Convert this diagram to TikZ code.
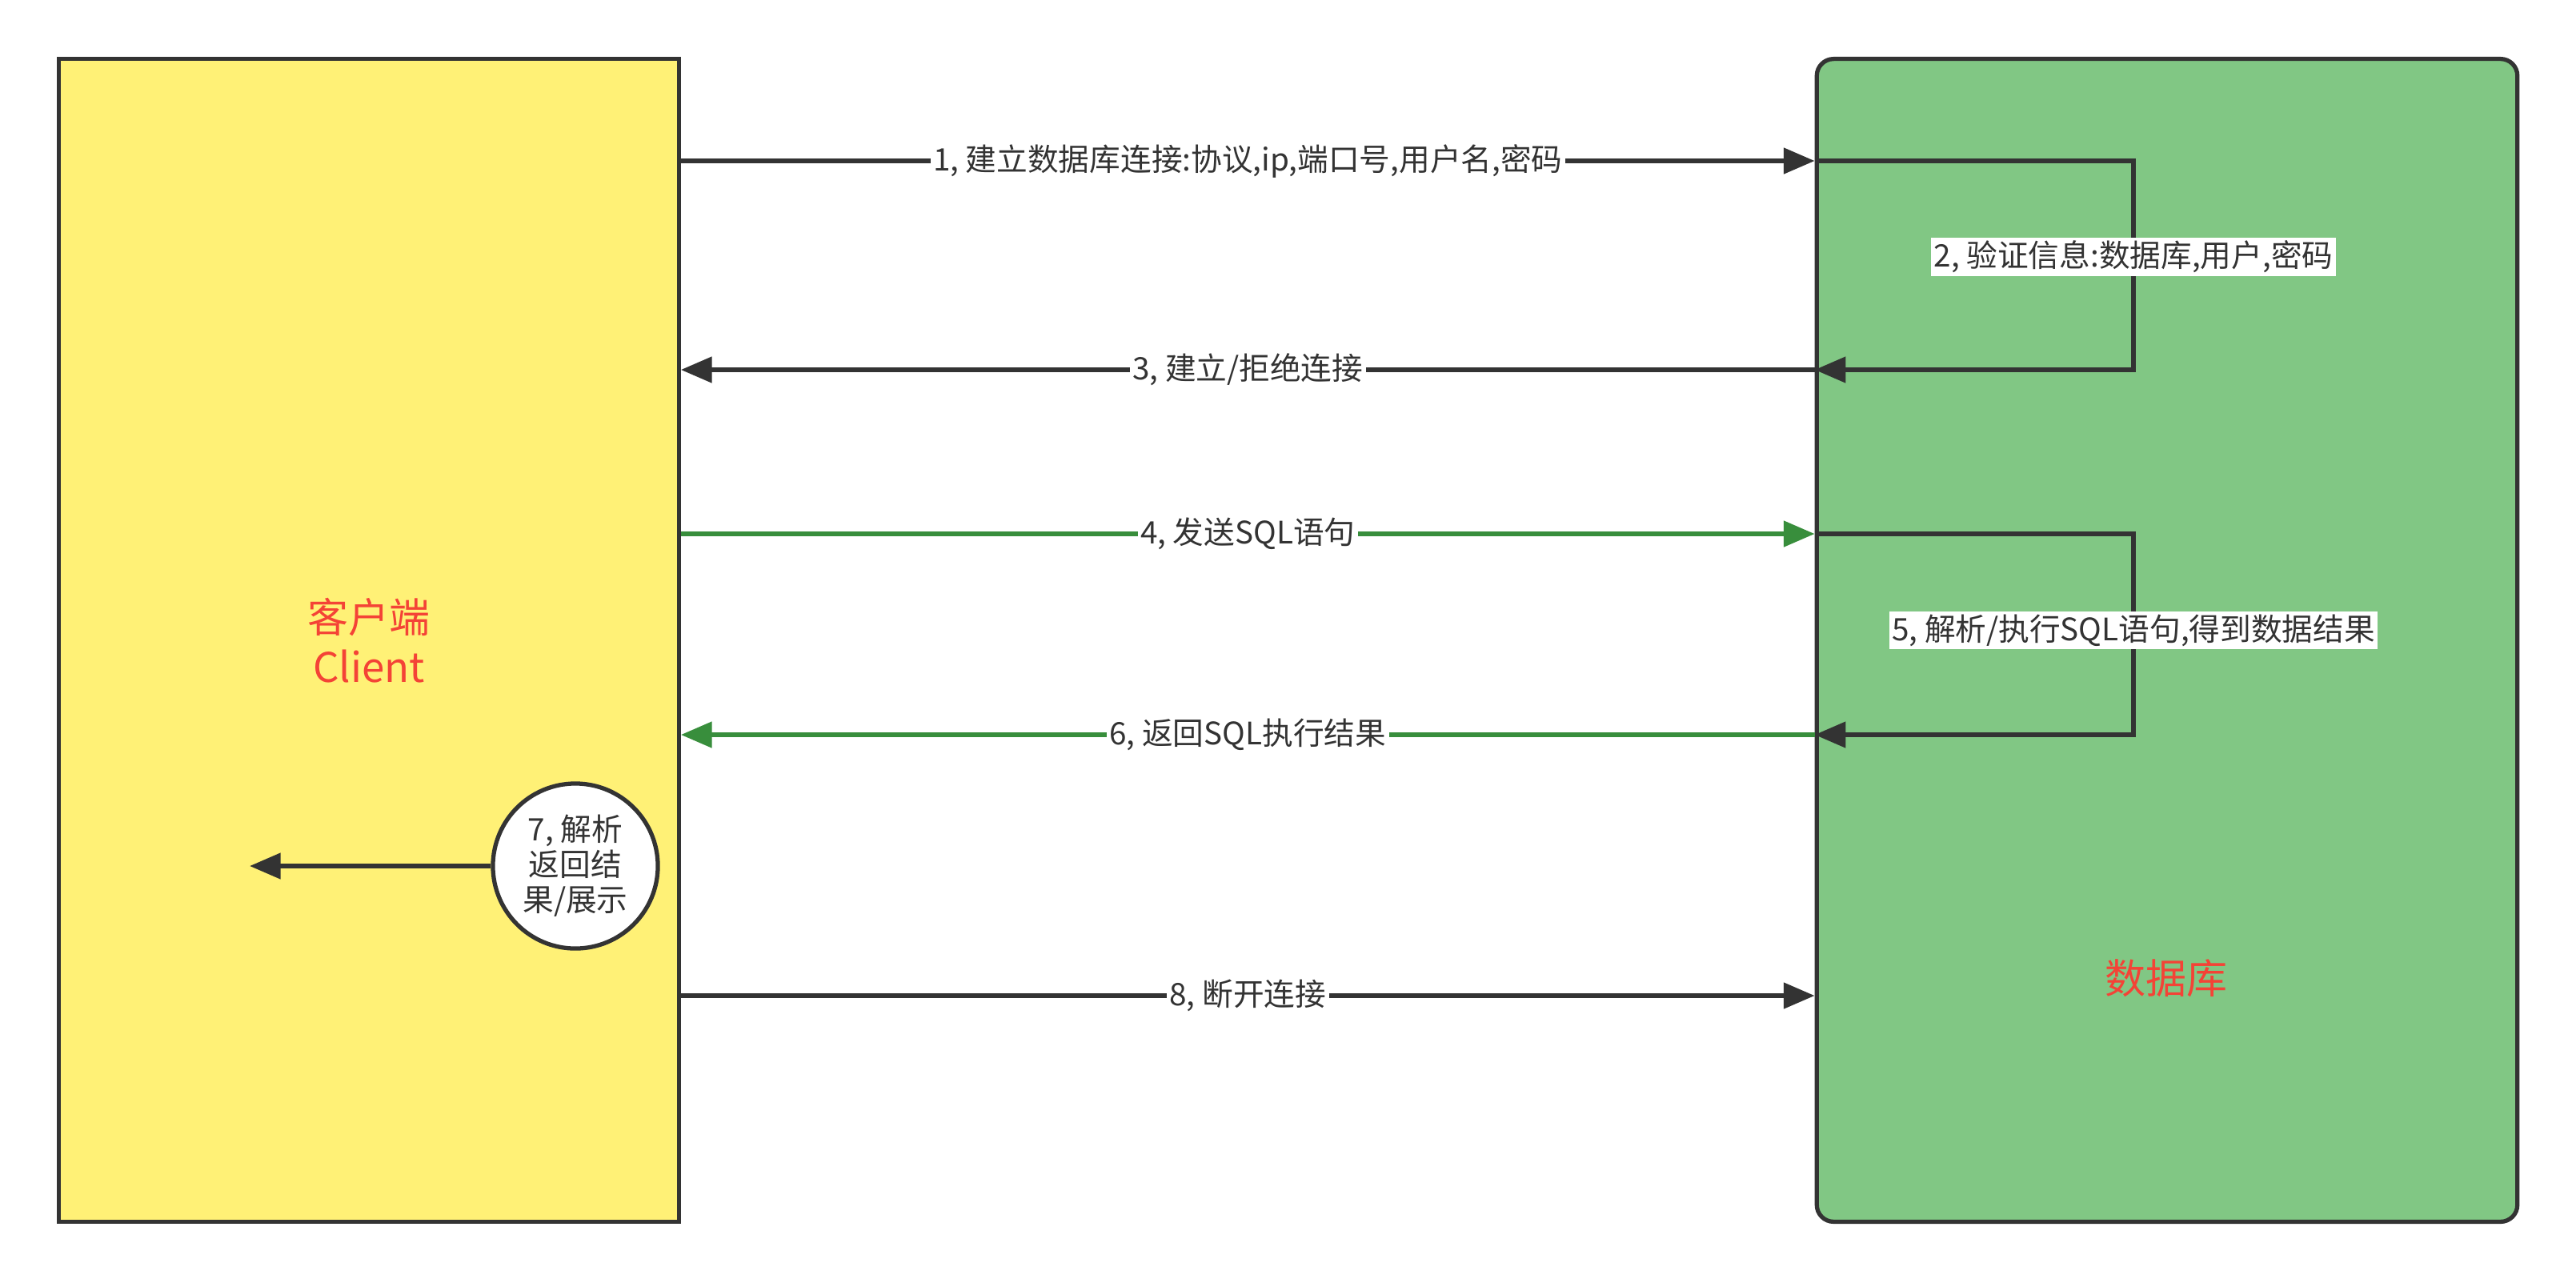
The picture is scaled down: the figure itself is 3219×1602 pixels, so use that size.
\documentclass[tikz,border=0pt]{standalone}
\usepackage{fontspec}
\setmainfont{Noto Sans CJK SC}
\usetikzlibrary{arrows.meta}
\definecolor{ink}{HTML}{333333}
\definecolor{clientfill}{HTML}{FFF176}
\definecolor{dbfill}{HTML}{81C784}
\definecolor{sqlgreen}{HTML}{388E3C}
\definecolor{titlered}{HTML}{F44336}
\begin{document}
\begin{tikzpicture}[x=0.01cm,y=-0.01cm,
  every node/.style={font=\fontsize{11}{12.5}\selectfont,text=ink},
  box/.style={draw=ink,line width=1.5pt,minimum width=7.74cm,minimum height=14.52cm},
  title/.style={font=\fontsize{14.5}{17.5}\selectfont,text=titlered},
  flow/.style={draw=ink,line width=1.6pt,-{Triangle[length=11pt,width=9pt]}},
  sqlflow/.style={flow,draw=sqlgreen},
  lbl/.style={fill=white,inner sep=1pt}]
  \useasboundingbox (0,0) rectangle (3219,1602);
  \node[box,fill=clientfill,align=center,title] (client) at (461,800) {客户端\\Client};
  \node[box,fill=dbfill,minimum width=8.75cm,rounded corners=6pt] (db) at (2708,800) {};
  \node[title] (dbname) at (2707,1222) {数据库};
  \coordinate (lv1) at (0,201);
  \coordinate (lv3) at (0,462);
  \coordinate (lv4) at (0,667);
  \coordinate (lv6) at (0,918);
  \coordinate (lv8) at (0,1244);
  \coordinate (loop) at (2666,0);
  \draw[flow] (client.east |- lv1) -- node[lbl] {1, 建立数据库连接:协议,ip,端口号,用户名,密码} (db.west |- lv1);
  \draw[flow] (db.west |- lv1) -- (loop |- lv1) -- node[lbl,pos=0.46] {2, 验证信息:数据库,用户,密码} (loop |- lv3) -- (db.west |- lv3);
  \draw[flow] (db.west |- lv3) -- node[lbl] {3, 建立/拒绝连接} (client.east |- lv3);
  \draw[sqlflow] (client.east |- lv4) -- node[lbl] {4, 发送SQL语句} (db.west |- lv4);
  \draw[flow] (db.west |- lv4) -- (loop |- lv4) -- node[lbl,pos=0.48] {5, 解析/执行SQL语句,得到数据结果} (loop |- lv6) -- (db.west |- lv6);
  \draw[sqlflow] (db.west |- lv6) -- node[lbl] {6, 返回SQL执行结果} (client.east |- lv6);
  \node[draw=ink,line width=1.5pt,circle,fill=white,minimum size=2.06cm,inner sep=0pt,align=center] (parse) at (719,1082) {7, 解析\\返回结\\果/展示};
  \coordinate (show) at (312,1082);
  \draw[flow] (parse.west) -- (show);
  \draw[flow] (client.east |- lv8) -- node[lbl] {8, 断开连接} (db.west |- lv8);
\end{tikzpicture}
\end{document}
